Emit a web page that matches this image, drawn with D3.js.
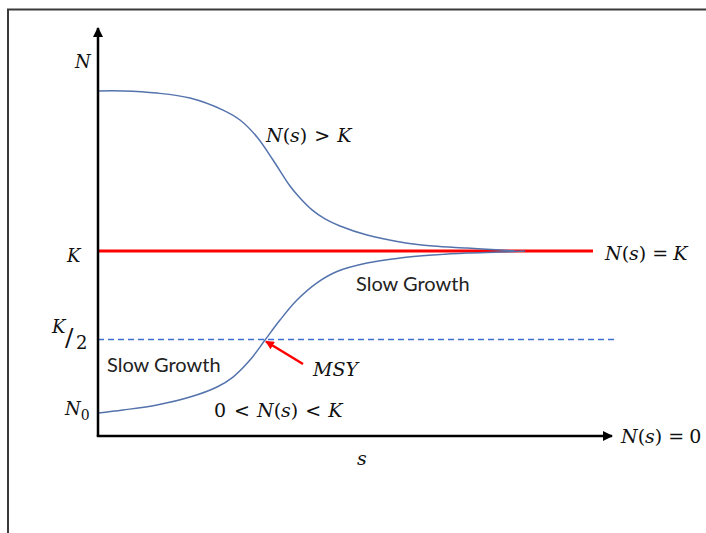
<!DOCTYPE html>
<html><head><meta charset="utf-8">
<script src="https://cdn.jsdelivr.net/npm/d3@7"></script>
<style>html,body{margin:0;padding:0;background:#fff;}svg{display:block;}</style>
</head><body>
<div id="chart"></div>
<script>
// ---- data ----
const K = 100, halfK = 50;
const lowerS = [0, 5, 11.8, 18.4, 23.8, 27, 30.4, 33.4, 36.4, 39.8, 43.8, 47.8, 53.8, 60.4, 67, 73.8, 80.4, 85.4];
const lowerN = [8.5, 10.2, 13.0, 17.5, 23.2, 28.8, 38.4, 49.7, 61.0, 72.3, 82.0, 88.4, 93.2, 96.0, 97.7, 98.9, 99.4, 100];
const upperS = [0, 5, 11.8, 18.4, 25, 28.4, 31.8, 35, 38.4, 40.4, 42.8, 45.4, 48.4, 53.8, 60.4, 67, 73.8, 80.4, 83.4];
const upperN = [190.4, 190.4, 189.2, 186.4, 179.6, 174.0, 164.4, 151.4, 136.7, 129.9, 123.2, 118.1, 114.1, 109.0, 105.1, 102.8, 101.7, 100.6, 100];
const msyS = 33.4, msyN = 50;
const yTickLabels = ["N", "K", "K/2", "N0"];

const W = 706, H = 533;
const svg = d3.select("#chart").append("svg").attr("width", W).attr("height", H);

const x = d3.scaleLinear().domain([0, 100]).range([98, 598]);
const y = d3.scaleLinear().domain([-4.5, 100]).range([436, 251]);

// frame (partial border)
svg.append("path").attr("d", `M8,533 L8,9.5 L706,9.5`).attr("fill", "none")
  .attr("stroke", "#3a3a3a").attr("stroke-width", 2);

const defs = svg.append("defs");
defs.append("marker").attr("id", "arrBlack").attr("viewBox", "0 0 10 10")
  .attr("refX", 9).attr("refY", 5).attr("markerWidth", 4).attr("markerHeight", 4)
  .attr("markerUnits", "strokeWidth").attr("orient", "auto")
  .append("path").attr("d", "M0,0 L10,5 L0,10 Z").attr("fill", "#000");
defs.append("marker").attr("id", "arrRed").attr("viewBox", "0 0 10 10")
  .attr("refX", 9).attr("refY", 5).attr("markerWidth", 3.5).attr("markerHeight", 3.5)
  .attr("markerUnits", "strokeWidth").attr("orient", "auto")
  .append("path").attr("d", "M0,0 L10,5 L0,10 Z").attr("fill", "#ff0000");

// dashed K/2 line
svg.append("line").attr("x1", x(0)).attr("x2", x(104)).attr("y1", y(halfK)).attr("y2", y(halfK))
  .attr("stroke", "#3f6fcf").attr("stroke-width", 1.3).attr("stroke-dasharray", "6,4");

// K line
svg.append("line").attr("x1", x(0)).attr("x2", x(99)).attr("y1", y(K)).attr("y2", y(K))
  .attr("stroke", "#ff0000").attr("stroke-width", 3);

const line = d3.line().x(d => x(d[0])).y(d => y(d[1])).curve(d3.curveCatmullRom.alpha(0.5));
svg.append("path").datum(d3.zip(lowerS, lowerN)).attr("d", line)
  .attr("fill", "none").attr("stroke", "#5473ad").attr("stroke-width", 1.5);
svg.append("path").datum(d3.zip(upperS, upperN)).attr("d", line)
  .attr("fill", "none").attr("stroke", "#5473ad").attr("stroke-width", 1.5);

// axes
svg.append("line").attr("x1", x(0)).attr("y1", y(-4.5)).attr("x2", x(0)).attr("y2", 28)
  .attr("stroke", "#000").attr("stroke-width", 2.5).attr("marker-end", "url(#arrBlack)");
svg.append("line").attr("x1", x(0) - 1.25).attr("y1", y(-4.5)).attr("x2", x(102.8)).attr("y2", y(-4.5))
  .attr("stroke", "#000").attr("stroke-width", 2.5).attr("marker-end", "url(#arrBlack)");

// MSY arrow
svg.append("line").attr("x1", 303).attr("y1", 364).attr("x2", x(msyS) + 1).attr("y2", y(msyN) + 2)
  .attr("stroke", "#ff0000").attr("stroke-width", 2.5).attr("marker-end", "url(#arrRed)");

// text helpers
const mathFont = "'DejaVu Serif', serif";
function mathText(xp, yp, parts, size) {
  const t = svg.append("text").attr("x", xp).attr("y", yp)
    .attr("font-family", mathFont).attr("font-size", size || 19).attr("fill", "#111")
    .attr("xml:space", "preserve");
  parts.forEach(p => {
    const ts = t.append("tspan").text(p[0]).attr("font-style", p[1] ? "italic" : "normal");
    if (p[2]) ts.attr("font-size", p[2]);
    if (p[3]) ts.attr("dy", p[3]);
    if (p[4]) ts.attr("dx", p[4]);
  });
  return t;
}

// y labels
mathText(75, 68, [[yTickLabels[0], true]], 18);
mathText(67, 262, [[yTickLabels[1], true]], 18);
mathText(52, 333, [["K", true]], 18);
mathText(65, 346, [["/", false, 25]]);
mathText(76, 349, [["2", false]], 18);
mathText(65, 415, [["N", true], ["0", false, 14, 5]], 18);

mathText(266, 142, [["N", true], ["(", false], ["s", true], [")", false], [">", false, null, null, 7], ["K", true, null, null, 7]]);
mathText(605, 260, [["N", true], ["(", false], ["s", true], [")", false], ["=", false, null, null, 6], ["K", true, null, null, 5]]);
mathText(621, 443, [["N", true], ["(", false], ["s", true], [")", false], ["=", false, null, null, 6], ["0", false, null, null, 5]]);
mathText(313, 376, [["MSY", true]]);
mathText(214, 417, [["0", false], ["<", false, null, null, 8], ["N", true, null, null, 7], ["(", false], ["s", true], [")", false], ["<", false, null, null, 7], ["K", true, null, null, 7]]);
mathText(357, 465, [["s", true]]);

const sans = "Lato, 'Open Sans', sans-serif";
svg.append("text").attr("x", 107).attr("y", 372).attr("font-family", sans).attr("font-size", 20)
  .attr("fill", "#222").text("Slow Growth");
svg.append("text").attr("x", 356).attr("y", 291).attr("font-family", sans).attr("font-size", 20)
  .attr("fill", "#222").text("Slow Growth");
</script>
</body></html>
